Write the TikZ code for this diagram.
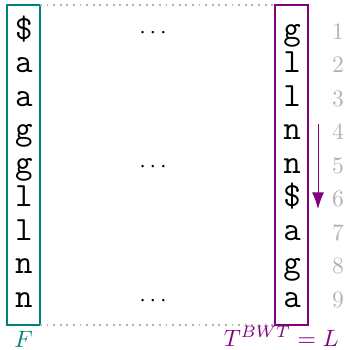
\documentclass[tikz,border=0pt]{standalone}
\usepackage{amsmath,amssymb}
\usepackage{tikz}
\usetikzlibrary{positioning,arrows.meta,calc}
\usepackage{xcolor}

\begin{document}
\begin{tikzpicture}[
  x=0.0149cm, y=-0.0149cm,
  col/.style={draw, thick, minimum width=0.49cm, minimum height=4.77cm, inner sep=0pt, outer sep=0pt},
  chr/.style={font=\Large\ttfamily, anchor=base, inner sep=0pt},
  idx/.style={text=black!30, anchor=base, inner sep=0pt},
  dots/.style={anchor=base, inner sep=0pt},
  sep/.style={dotted, thick, black!30},
  arr/.style={-{Latex[length=7pt, width=5pt]}, violet},
]
\useasboundingbox (0,0) rectangle (350,350);

% --- first and last column ---
\node[col, teal] (Fbox) at (23.5, 165) {};
\node[col, violet] (Lbox) at (291.5, 165) {};

% --- letters ---
\foreach \f/\l [count=\i] in {\$/g, a/l, a/l, g/n, g/n, l/\$, l/a, n/g, n/a} {
  \node[chr] (f\i) at (24, 39+33.5*\i-33.5) {\f};
  \node[chr] (l\i) at (292, 39+33.5*\i-33.5) {\l};
  \node[idx] (n\i) at (338, 39+33.5*\i-33.5) {\i};
}

% --- dots in between ---
\node[dots] (d1) at (155, 38) {$\cdots$};
\node[dots] (d5) at (155, 172) {$\cdots$};
\node[dots] (d9) at (155, 306) {$\cdots$};

% dotted borders
\draw[sep] (Fbox.north east) -- (Lbox.north west);
\draw[sep] (Fbox.south east) -- (Lbox.south west);

% --- arrow down ---
\coordinate (a0) at (318, 124);
\coordinate (a1) at (318, 209);
\draw[arr] (a0) -- (a1);

% --- labels ---
\node[text=teal, anchor=base] (Flab) at (23.5, 347) {$F$};
\node[text=violet, anchor=base east] (Llab) at (347, 346) {$T^{BWT} = L$};
\end{tikzpicture}
\end{document}
